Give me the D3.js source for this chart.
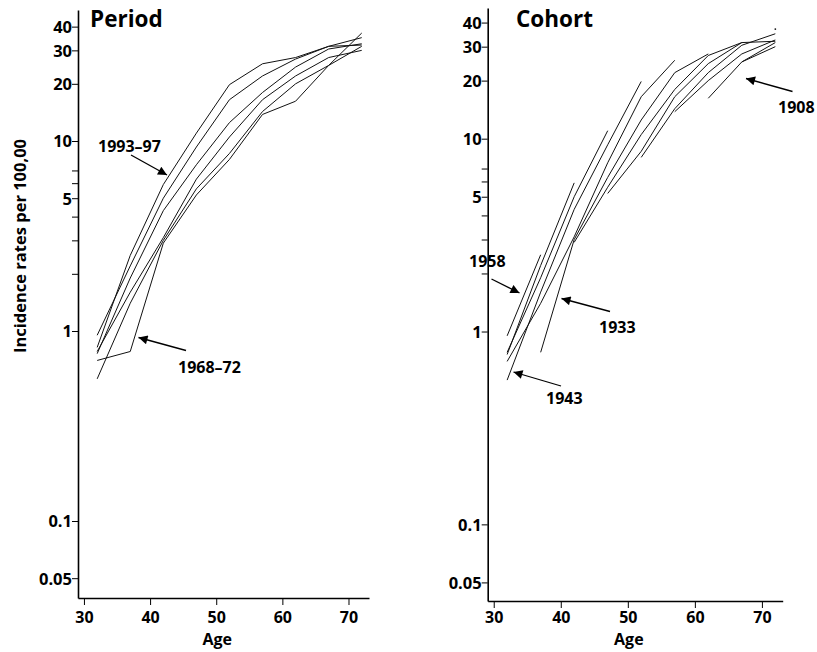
<!DOCTYPE html>
<html>
<head>
<meta charset="utf-8">
<script src="https://cdn.jsdelivr.net/npm/d3@7"></script>
<style>
  html, body { margin: 0; padding: 0; background: #fff; }
  svg { display: block; }
  text { font-family: "Open Sans", "Noto Sans", sans-serif; font-weight: 700; fill: #000; }
</style>
</head>
<body>
<svg id="chart" width="817" height="652"></svg>
<script>
// ---- data ----
const ages = [32, 37, 42, 47, 52, 57, 62, 67, 72];
const periods = ["1968–72", "1973–77", "1978–82", "1983–87", "1988–92", "1993–97"];
const periodMid = [1970, 1975, 1980, 1985, 1990, 1995];
const rates1968_72 = [0.70, 0.78, 2.9, 5.2, 8.0, 13.8, 16.2, 25.0, 37.0];
const rates1973_77 = [0.56, 1.4, 3.0, 5.6, 8.6, 14.3, 20.0, 25.0, 31.5];
const rates1978_82 = [0.78, 1.6, 3.1, 6.3, 10.5, 16.5, 22.0, 27.5, 30.0];
const rates1983_87 = [0.76, 1.9, 4.3, 7.5, 12.5, 18.0, 24.5, 30.5, 32.5];
const rates1988_92 = [0.95, 2.2, 5.0, 9.3, 16.5, 22.0, 27.0, 31.5, 35.0];
const rates1993_97 = [0.82, 2.5, 5.9, 11.0, 19.8, 25.5, 27.5, 31.5, 32.0];
const periodRates = [rates1968_72, rates1973_77, rates1978_82, rates1983_87, rates1988_92, rates1993_97];
const cohorts = [1898, 1903, 1908, 1913, 1918, 1923, 1928, 1933, 1938, 1943, 1948, 1953, 1958];
const xTicks = [30, 40, 50, 60, 70];
const yTicks = [0.05, 0.1, 1, 2, 3, 4, 5, 6, 7, 10, 20, 30, 40];
const yTickLabels = [0.05, 0.1, 1, 5, 10, 20, 30, 40];

const svg = d3.select("#chart");

function panel(cfg) {
  const x = d3.scaleLinear().domain([29.1, 73.1]).range([cfg.left, cfg.right]);
  const y = d3.scaleLog().domain([cfg.lo, cfg.hi]).range([cfg.bottom, cfg.top]);
  const g = svg.append("g");

  const xa = g.append("g").attr("transform", `translate(0,${cfg.bottom})`)
    .call(d3.axisBottom(x).tickValues(xTicks).tickSize(7).tickSizeOuter(0).tickFormat(d3.format("d")));
  const ya = g.append("g").attr("transform", `translate(${cfg.left},0)`)
    .call(d3.axisLeft(y).tickValues(yTicks).tickSize(6).tickSizeOuter(0)
      .tickFormat(d => yTickLabels.includes(d) ? String(d) : ""));
  [xa, ya].forEach(a => {
    a.select(".domain").attr("stroke", "#000").attr("stroke-width", 1.6);
    a.selectAll(".tick line").attr("stroke", "#000").attr("stroke-width", 1);
    a.selectAll("text").style("font-size", "16.5px").style("font-family", "'Open Sans', sans-serif")
      .style("font-weight", 700).attr("fill", "#000");
  });
  xa.selectAll(".tick text").style("font-size", "16px").attr("y", 623 - cfg.bottom).attr("dy", 0);
  ya.selectAll(".tick text").attr("x", -6).attr("dy", "0.36em");

  g.append("text").attr("x", (x(30) + x(70)) / 2 + 1).attr("y", 645)
    .attr("text-anchor", "middle").style("font-size", "16px").text("Age");

  g.append("text").attr("x", cfg.titleX).attr("y", 27).style("font-size", "22.5px").text(cfg.title);

  const line = d3.line().x(d => x(d[0])).y(d => y(d[1]));
  cfg.series.forEach(s => {
    if (s.length === 1) {
      g.append("circle").attr("cx", x(s[0][0])).attr("cy", y(s[0][1])).attr("r", 0.9).attr("fill", "#111");
    } else {
      g.append("path").attr("d", line(s)).attr("fill", "none").attr("stroke", "#111").attr("stroke-width", 1);
    }
  });
  return { x, y, g };
}

// arrow marker
svg.append("defs").append("marker")
  .attr("id", "ah").attr("viewBox", "0 0 10 10").attr("refX", 10).attr("refY", 5)
  .attr("markerWidth", 11).attr("markerHeight", 9).attr("markerUnits", "userSpaceOnUse")
  .attr("orient", "auto")
  .append("path").attr("d", "M0,0 L10,5 L0,10 Z").attr("fill", "#000");

function arrow(x1, y1, x2, y2) {
  svg.append("line").attr("x1", x1).attr("y1", y1).attr("x2", x2).attr("y2", y2)
    .attr("stroke", "#000").attr("stroke-width", 1.3).attr("marker-end", "url(#ah)");
}
function label(txt, xx, yy) {
  svg.append("text").attr("x", xx).attr("y", yy).style("font-size", "16px").text(txt);
}

// ---- Period panel ----
const periodSeries = periodRates.map(r => ages.map((a, i) => [a, r[i]]));
const P = panel({ left: 78, right: 369, top: 10, bottom: 598, lo: 0.03933, hi: 48.93,
  title: "Period", titleX: 90, series: periodSeries });

// ---- Cohort panel ----
const cohortSeries = cohorts.map(c => {
  const pts = [];
  periodMid.forEach((pm, pi) => {
    const ai = ages.indexOf(pm - c);
    if (ai >= 0) pts.push([ages[ai], periodRates[pi][ai]]);
  });
  return pts;
}).filter(s => s.length > 0);
const C = panel({ left: 487.7, right: 782.7, top: 8, bottom: 601, lo: 0.04005, hi: 47.6,
  title: "Cohort", titleX: 516, series: cohortSeries });

// y-axis title
svg.append("text").attr("transform", "translate(26,246) rotate(-90)")
  .attr("text-anchor", "middle").style("font-size", "16.5px").text("Incidence rates per 100,00");

// ---- annotations ----
label("1993–97", 98, 152);
arrow(131, 155, 167, 175);
label("1968–72", 178, 373);
arrow(186, 350.5, 138.5, 337.5);

label("1958", 469, 267);
arrow(491.5, 279, 519.5, 293);
label("1933", 599, 333);
arrow(610, 311.5, 561.5, 298.5);
label("1943", 546, 404);
arrow(561, 386, 513.5, 372);
label("1908", 778, 113);
arrow(792.5, 91.5, 746, 78.5);
</script>
</body>
</html>
